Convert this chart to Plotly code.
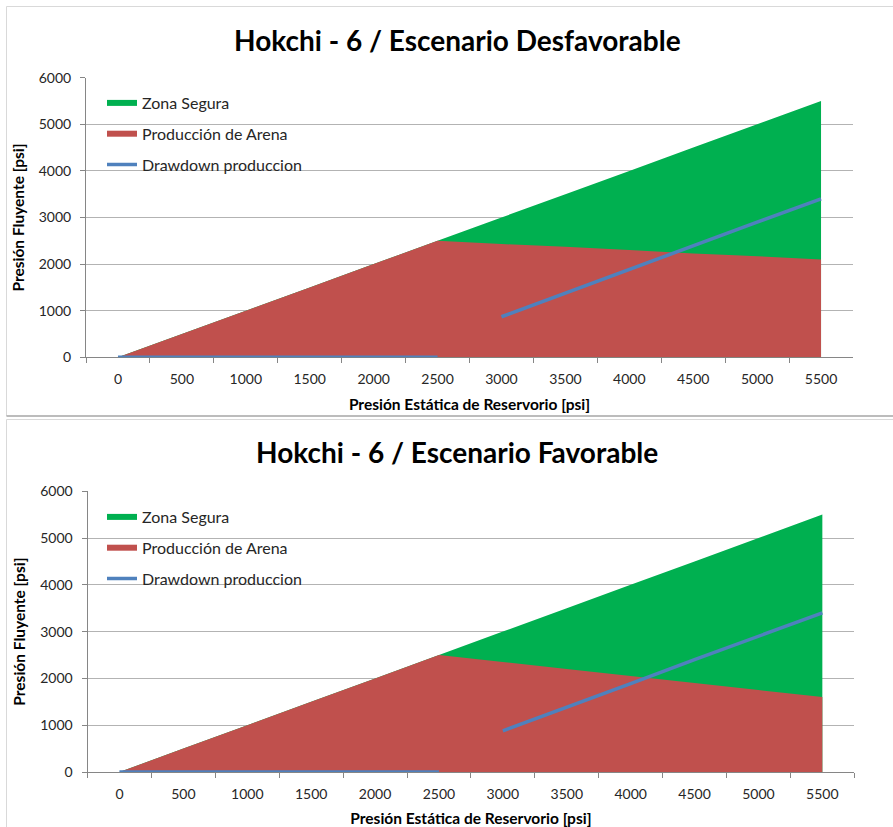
import plotly.graph_objects as go

categories = ["0", "500", "1000", "1500", "2000", "2500", "3000", "3500", "4000", "4500", "5000", "5500"]

# Top chart: Escenario Desfavorable
top_zona_segura = [0, 500, 1000, 1500, 2000, 2500, 3000, 3500, 4000, 4500, 5000, 5500]
top_produccion_arena = [0, 500, 1000, 1500, 2000, 2500, 2430, 2370, 2300, 2230, 2170, 2100]
top_drawdown_low_x = ["0", "500", "1000", "1500", "2000", "2500"]
top_drawdown_low = [0, 0, 0, 0, 0, 0]
top_drawdown_high_x = ["3000", "3500", "4000", "4500", "5000", "5500"]
top_drawdown_high = [870, 1380, 1890, 2390, 2900, 3400]

# Bottom chart: Escenario Favorable
bot_zona_segura = [0, 500, 1000, 1500, 2000, 2500, 3000, 3500, 4000, 4500, 5000, 5500]
bot_produccion_arena = [0, 500, 1000, 1500, 2000, 2500, 2350, 2200, 2050, 1900, 1750, 1600]
bot_drawdown_low_x = ["0", "500", "1000", "1500", "2000", "2500"]
bot_drawdown_low = [0, 0, 0, 0, 0, 0]
bot_drawdown_high_x = ["3000", "3500", "4000", "4500", "5000", "5500"]
bot_drawdown_high = [880, 1380, 1890, 2400, 2900, 3400]

titles = ["Hokchi - 6 / Escenario Desfavorable", "Hokchi - 6 / Escenario Favorable"]
x_title = "Presión Estática de Reservorio [psi]"
y_title = "Presión Fluyente [psi]"
y_ticks = [0, 1000, 2000, 3000, 4000, 5000, 6000]

GREEN = "#00B050"
RED = "#C0504D"
BLUE = "#4F81BD"
FONT = "Lato"

W, H = 893, 827
def px_x(v):
    return v / W
def px_y(v):
    return 1 - v / H

fig = go.Figure()

panels = [
    dict(xa="x", ya="y", leg="legend", zs=top_zona_segura, pa=top_produccion_arena,
         dlx=top_drawdown_low_x, dl=top_drawdown_low, dhx=top_drawdown_high_x, dh=top_drawdown_high),
    dict(xa="x2", ya="y2", leg="legend2", zs=bot_zona_segura, pa=bot_produccion_arena,
         dlx=bot_drawdown_low_x, dl=bot_drawdown_low, dhx=bot_drawdown_high_x, dh=bot_drawdown_high),
]

for p in panels:
    fig.add_trace(go.Scatter(x=categories, y=p["zs"], mode="none", fill="tozeroy",
                             fillcolor=GREEN, name="Zona Segura", xaxis=p["xa"], yaxis=p["ya"],
                             legend=p["leg"], legendgroup="a" + p["leg"]))
    fig.add_trace(go.Scatter(x=categories, y=p["pa"], mode="none", fill="tozeroy",
                             fillcolor=RED, name="Producción de Arena", xaxis=p["xa"], yaxis=p["ya"],
                             legend=p["leg"], legendgroup="b" + p["leg"]))
    fig.add_trace(go.Scatter(x=p["dlx"], y=p["dl"], mode="lines", line=dict(color=BLUE, width=3.5),
                             name="Drawdown produccion", xaxis=p["xa"], yaxis=p["ya"], cliponaxis=False,
                             legend=p["leg"], legendgroup="c" + p["leg"]))
    fig.add_trace(go.Scatter(x=p["dhx"], y=p["dh"], mode="lines", line=dict(color=BLUE, width=3.5),
                             name="Drawdown produccion", xaxis=p["xa"], yaxis=p["ya"], cliponaxis=False,
                             legend=p["leg"], legendgroup="c" + p["leg"], showlegend=False))

TICKFONT = dict(family=FONT, size=14, color="#262626")
TITLEFONT = dict(family=FONT, size=15.5, color="#000000", weight="bold")

axis_common_x = dict(type="category", categoryorder="array", categoryarray=categories,
                     range=[-0.5, 11.5], tickson="boundaries", ticks="outside", ticklen=5,
                     tickcolor="#868686", showline=True, linecolor="#868686", linewidth=1,
                     showgrid=False, zeroline=False, automargin=False, ticklabelstandoff=9,
                     layer="below traces", tickfont=TICKFONT)
axis_common_y = dict(range=[0, 6000], tickvals=y_ticks, ticks="outside", ticklen=5,
                     tickcolor="#868686", showline=True, linecolor="#868686", linewidth=1,
                     showgrid=True, gridcolor="#B3B3B3", gridwidth=1, zeroline=False,
                     automargin=False, ticklabelstandoff=6, tickfont=TICKFONT)

fig.update_layout(
    width=W, height=H,
    margin=dict(l=0, r=0, t=0, b=0),
    paper_bgcolor="white", plot_bgcolor="white",
    font=dict(family=FONT, color="#000000"),
    xaxis=dict(axis_common_x, domain=[px_x(86), px_x(853)], anchor="y",
               title=dict(text=x_title, font=TITLEFONT, standoff=13)),
    yaxis=dict(axis_common_y, domain=[px_y(357.3), px_y(77.7)], anchor="x",
               title=dict(text=y_title, font=TITLEFONT, standoff=10)),
    xaxis2=dict(axis_common_x, domain=[px_x(87.5), px_x(854.3)], anchor="y2",
                title=dict(text=x_title, font=TITLEFONT, standoff=13)),
    yaxis2=dict(axis_common_y, domain=[px_y(772), px_y(491.2)], anchor="x2",
                title=dict(text=y_title, font=TITLEFONT, standoff=10)),
    legend=dict(x=px_x(102), y=px_y(86), xanchor="left", yanchor="top", bgcolor="rgba(0,0,0,0)",
                font=dict(family=FONT, size=16, color="#262626"), tracegroupgap=7, itemwidth=30,
                traceorder="grouped"),
    legend2=dict(x=px_x(102), y=px_y(500), xanchor="left", yanchor="top", bgcolor="rgba(0,0,0,0)",
                 font=dict(family=FONT, size=16, color="#262626"), tracegroupgap=7, itemwidth=30,
                 traceorder="grouped"),
    annotations=[
        dict(text=titles[0], x=px_x(457), y=px_y(40), xref="paper", yref="paper", showarrow=False,
             xanchor="center", yanchor="middle", font=dict(family=FONT, size=28, color="#000000", weight="bold")),
        dict(text=titles[1], x=px_x(457), y=px_y(452), xref="paper", yref="paper", showarrow=False,
             xanchor="center", yanchor="middle", font=dict(family=FONT, size=28, color="#000000", weight="bold")),
    ],
    shapes=[
        dict(type="rect", xref="paper", yref="paper", x0=px_x(6.5), x1=px_x(900), y0=px_y(416), y1=px_y(6.5),
             line=dict(color="#D9D9D9", width=1)),
        dict(type="line", xref="paper", yref="paper", x0=px_x(6.5), x1=px_x(900), y0=px_y(416), y1=px_y(416),
             line=dict(color="#8C8C8C", width=1)),
        dict(type="rect", xref="paper", yref="paper", x0=px_x(6.5), x1=px_x(900), y0=px_y(830), y1=px_y(419.5),
             line=dict(color="#D9D9D9", width=1)),
    ],
)

fig.write_html("out.html", config={"displayModeBar": False},
               post_script="document.body.style.margin='0';document.body.style.overflow='hidden';")
